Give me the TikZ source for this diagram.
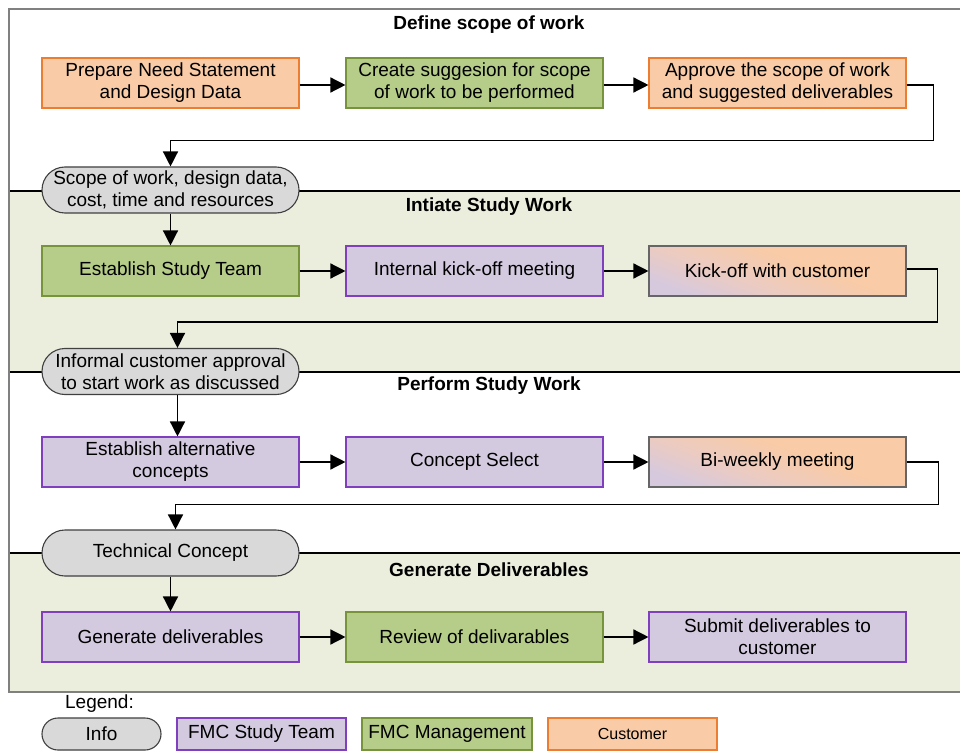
\documentclass[tikz,border=0pt]{standalone}
\usepackage{fontspec}
\setmainfont{Liberation Sans}
\usetikzlibrary{arrows.meta,calc}
\definecolor{orfill}{HTML}{F9CBA6}
\definecolor{ordraw}{HTML}{ED7D31}
\definecolor{grfill}{HTML}{B6CC89}
\definecolor{grdraw}{HTML}{77933C}
\definecolor{pufill}{HTML}{D3CAE0}
\definecolor{pudraw}{HTML}{7F3FBF}
\definecolor{infofill}{HTML}{D9D9D9}
\definecolor{infodraw}{HTML}{404040}
\definecolor{lanefill}{HTML}{EBEEDD}
\definecolor{framegray}{HTML}{808080}
\definecolor{mixa}{HTML}{D6C9DE}
\definecolor{mixb}{HTML}{EBCBC2}
\definecolor{mixc}{HTML}{F9CBA6}
\pgfdeclareverticalshading{custgrad}{100bp}{color(0bp)=(mixa); color(25bp)=(mixa); color(40bp)=(mixb); color(58bp)=(mixc); color(100bp)=(mixc)}
\tikzset{
  box/.style={rectangle, minimum width=257pt, minimum height=50pt, inner sep=2pt,
    align=center, line width=1.1pt, font=\fontsize{19}{22}\selectfont},
  cust/.style={box, fill=orfill, draw=ordraw},
  mgmt/.style={box, fill=grfill, draw=grdraw},
  team/.style={box, fill=pufill, draw=pudraw},
  mixed/.style={box, draw=infodraw!80, shading=custgrad, shading angle=-20},
  info/.style={box, minimum height=46pt, rounded corners=23pt, fill=infofill, draw=infodraw},
  lanetitle/.style={font=\bfseries\fontsize{19}{22}\selectfont, inner sep=0pt},
  arr/.style={line width=1.4pt, -{Triangle[length=15pt,width=15pt]}},
}
\begin{document}
\begin{tikzpicture}[x=1pt,y=-1pt]
\useasboundingbox (0,0) rectangle (960,751);
\fill[white] (0,0) rectangle (960,751);
% lanes
\fill[lanefill] (9,191) rectangle (961,372);
\fill[lanefill] (9,553) rectangle (961,692);
\draw[black, line width=1.2pt] (9,191) -- (961,191);
\draw[black, line width=1.2pt] (9,372) -- (961,372);
\draw[black, line width=1.2pt] (9,553) -- (961,553);
\draw[framegray, line width=1.8pt] (961,9) -- (9,9) -- (9,692) -- (961,692);
% lane titles
\node[lanetitle] (t1) at (489,25) {Define scope of work};
\node[lanetitle] (t2) at (489,207) {Intiate Study Work};
\node[lanetitle] (t3) at (489,386) {Perform Study Work};
\node[lanetitle] (t4) at (489,570) {Generate Deliverables};
% row 1
\node[cust] (a1) at (170.5,83) {Prepare Need Statement\\and Design Data};
\node[mgmt] (a2) at (474.5,83) {Create suggesion for scope\\of work to be performed};
\node[cust] (a3) at (777.5,83) {Approve the scope of work\\and suggested deliverables};
\node[info] (i1) at (170.5,190) {Scope of work, design data,\\cost, time and resources};
% row 2
\node[mgmt] (b1) at (170.5,271) {Establish Study Team};
\node[team] (b2) at (474.5,271) {Internal kick-off meeting};
\node[mixed] (b3) at (777.5,271) {Kick-off with customer};
\node[info] (i2) at (170.5,371.5) {Informal customer approval\\to start work as discussed};
% row 3
\node[team] (c1) at (170.5,462) {Establish alternative\\concepts};
\node[team] (c2) at (474.5,462) {Concept Select};
\node[mixed] (c3) at (777.5,462) {Bi-weekly meeting};
\node[info] (i3) at (170.5,553) {Technical Concept};
% row 4
\node[team] (d1) at (170.5,637) {Generate deliverables};
\node[mgmt] (d2) at (474.5,637) {Review of delivarables};
\node[team] (d3) at (777.5,637) {Submit deliverables to\\customer};
% connectors
\draw[arr] ([yshift=-2]a1.east) -- ([yshift=-2]a2.west);
\draw[arr] ([yshift=-2]a2.east) -- ([yshift=-2]a3.west);
\draw[arr] ([yshift=-2]a3.east) -- ++(27,0) |- ($(i1.north)+(0,-26)$) -- (i1.north);
\draw[arr] (i1) -- (b1);
\draw[arr] (b1) -- (b2);
\draw[arr] (b2) -- (b3);
\draw[arr] ([yshift=2]b3.east) -- ++(31,0) |- ($(i2.north)+(7,-26)$) -- ([xshift=7]i2.north);
\draw[arr] ([xshift=7]i2.south) -- ([xshift=7]c1.north);
\draw[arr] (c1) -- (c2);
\draw[arr] (c2) -- (c3);
\draw[arr] (c3.east) -- ++(32,0) |- ($(i3.north)+(5,-25)$) -- ([xshift=5]i3.north);
\draw[arr] (i3) -- (d1);
\draw[arr] (d1) -- (d2);
\draw[arr] (d2) -- (d3);
% legend
\node[font=\fontsize{19}{22}\selectfont, inner sep=0pt] (lg) at (99.5,704) {Legend:};
\node[info, minimum width=119pt, minimum height=32pt, rounded corners=16pt] (l1) at (101.5,734) {Info};
\node[team, minimum width=169pt, minimum height=32pt] (l2) at (261.5,734) {FMC Study Team};
\node[mgmt, minimum width=170pt, minimum height=32pt] (l3) at (447,734) {FMC Management};
\node[cust, minimum width=169pt, minimum height=32pt, font=\fontsize{16}{19}\selectfont] (l4) at (632.5,734) {Customer};
\end{tikzpicture}
\end{document}
